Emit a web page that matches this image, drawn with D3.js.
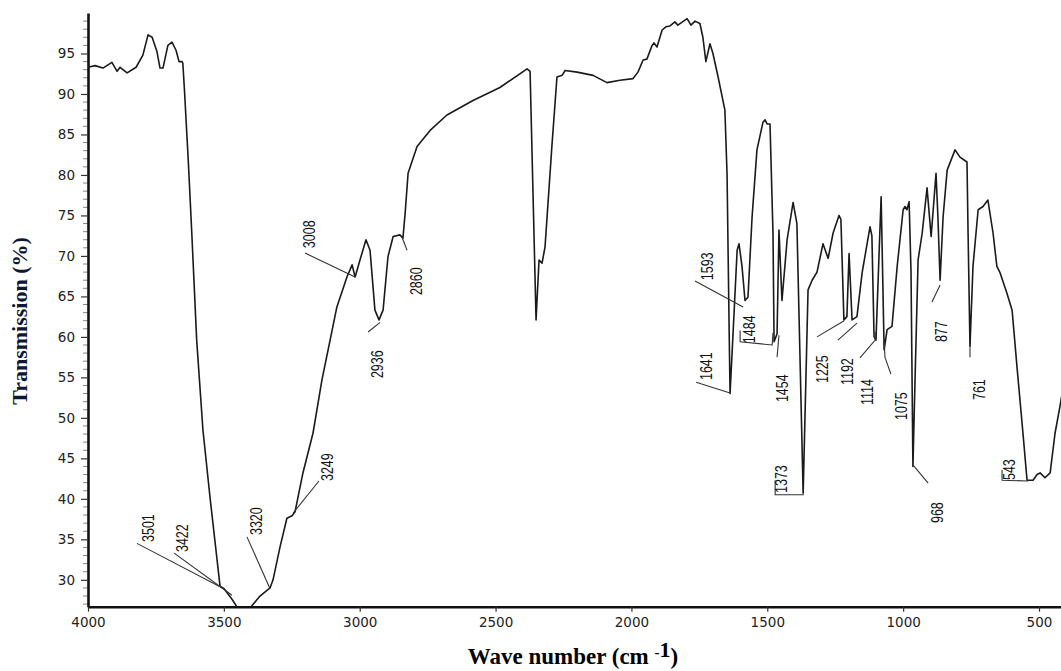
<!DOCTYPE html>
<html>
<head>
<meta charset="utf-8">
<style>
  body { margin: 0; background: #fff; }
  svg { display: block; }
  .axis text { font-family: "DejaVu Sans", sans-serif; font-size: 13.5px; fill: #222; }
  .axis .domain { stroke: #111; stroke-width: 2.6; }
  .axis .tick line { stroke: #333; stroke-width: 1.2; }
  .minor line { stroke: #888; stroke-width: 1; }
  .peak text { font-family: "Liberation Sans", Arial, sans-serif; font-size: 12.5px; fill: #111; }
  .peak path { fill: none; stroke: #333; stroke-width: 1.1; }
  .title { font-family: "Liberation Serif", "Times New Roman", serif; font-weight: bold; }
</style>
<script src="https://cdn.jsdelivr.net/npm/d3@7"></script>
</head>
<body>
<svg id="chart" width="1061" height="671"></svg>
<script>
// spectrum: wave number (cm-1) and transmission (%)
const waveNumber = [4000,3974,3945,3912,3893,3882,3856,3823,3798,3779,3764,3746,3735,3724,3706,3691,3676,3665,3654,3651,3645,3631,3618,3600,3577,3551,3514,3499,3470,3449,3425,3404,3367,3330,3319,3293,3268,3249,3238,3209,3172,3139,3109,3084,3047,3028,3017,2999,2977,2962,2944,2929,2914,2896,2877,2852,2841,2833,2822,2789,2741,2679,2583,2484,2384,2373,2351,2340,2329,2318,2292,2274,2255,2244,2200,2141,2090,2042,1994,1976,1957,1943,1924,1917,1906,1887,1873,1858,1840,1829,1795,1781,1766,1748,1737,1726,1711,1700,1681,1656,1648,1640,1637,1626,1611,1604,1593,1582,1571,1556,1538,1516,1508,1501,1490,1479,1475,1464,1457,1446,1427,1405,1391,1368,1350,1335,1317,1295,1276,1258,1236,1229,1218,1207,1199,1188,1170,1151,1122,1115,1107,1100,1081,1070,1059,1041,1022,1000,993,986,978,971,964,956,945,930,912,897,879,872,864,853,838,809,791,765,761,754,743,724,706,688,669,655,643,618,599,581,559,544,522,507,496,478,459,441,423,410];
const transmission = [93.3,93.5,93.2,93.9,92.8,93.3,92.6,93.3,94.8,97.3,97.0,95.2,93.2,93.2,96.0,96.4,95.4,94.0,94.0,93.8,90.5,81.8,72.8,59.6,48.5,40.2,29.2,28.9,27.6,26.5,25.5,26.5,28.0,29.0,30.0,34.1,37.6,37.9,38.4,43.2,48.1,54.7,59.6,63.7,67.4,68.9,67.4,69.5,72.0,70.7,63.3,62.1,63.3,69.9,72.4,72.6,72.2,75.2,80.2,83.5,85.5,87.4,89.2,90.8,93.1,92.8,62.1,69.5,69.1,71.1,83.9,92.1,92.3,92.9,92.7,92.3,91.4,91.7,91.9,92.7,94.2,94.3,96.0,96.3,95.8,97.9,98.3,98.4,98.9,98.5,99.3,98.5,99.0,98.7,97.0,94.0,96.2,95.0,92.1,88.0,80.0,60.0,53.0,60.4,70.7,71.5,68.7,64.5,64.9,74.8,83.1,86.5,86.8,86.3,86.3,72.8,59.4,60.4,73.2,64.5,72.0,76.6,74.0,40.7,65.8,67.0,68.0,71.5,69.7,72.8,75.0,74.5,62.1,62.5,70.3,62.1,62.5,67.9,73.6,72.5,60.0,59.6,77.3,58.4,60.9,61.3,68.7,75.7,76.1,75.7,76.7,68.0,44.0,55.0,69.5,72.8,78.4,72.4,80.2,74.8,67.0,74.8,80.6,83.1,82.2,81.6,72.8,58.8,68.7,75.7,76.1,76.9,72.8,68.7,67.9,65.4,63.3,56.3,48.1,42.3,42.3,43.0,43.2,42.6,43.2,48.1,51.4,54.0];

// peak labels, where each label sits and its leader line (data units)
const peakLabels = ["3501","3422","3320","3249","3008","2936","2860","1641","1593","1484","1454","1373","1225","1192","1114","1075","968","877","761","543"];
const peakLabelAt = [[3757,34.67],[3632,33.43],[3360,35.53],[3098,42.2],[3164,70.96],[2914,54.91],[2771,65.16],[1703,54.67],[1700,67.0],[1545,59.23],[1424,51.95],[1427,40.72],[1276,54.3],[1184,54.05],[1111,51.58],[986,49.73],[853,37.01],[838,59.36],[699,52.2],[588,42.32]];
const peakLeaders = [
  [[3820,34.5],[3500,28.9]],
  [[3683,33.3],[3470,28.1]],
  [[3415,35.3],[3330,28.9]],
  [[3150,42.2],[3245,38.25]],
  [[3201,70.35],[3017,67.4]],
  [[2969,60.6],[2925,61.8]],
  [[2844,72.3],[2826,70.7]],
  [[1762,54.4],[1637,53.06]],
  [[1766,66.9],[1589,63.7]],
  [[1600,60.8],[1600,59.4],[1482,59.0],[1479,60.5]],
  [[1464,57.5],[1457,60.2]],
  [[1471,42.3],[1471,40.5],[1365,40.5]],
  [[1317,60.0],[1217,62.0]],
  [[1240,59.6],[1170,61.7]],
  [[1159,57.4],[1103,59.6],[1103,60.6]],
  [[1045,55.4],[1067,57.5],[1070,59.6]],
  [[964,44.2],[908,41.95]],
  [[894,64.3],[864,66.4]],
  [[754,57.5],[754,58.7]],
  [[636,43.55],[636,42.3],[540,42.2]]
];

const xTicks = [4000,3500,3000,2500,2000,1500,1000,500];
const yTicks = [30,35,40,45,50,55,60,65,70,75,80,85,90,95];

const plotLeft = 88, plotTop = 13, plotBottom = 606.7;
const svg = d3.select("#chart");

const x = d3.scaleLinear().domain([4000, 400]).range([plotLeft, plotLeft + 3600 * 0.271714]);
const y = d3.scaleLinear().domain([26.68, 100]).range([plotBottom, plotTop]);

svg.append("clipPath").attr("id", "plot")
  .append("rect").attr("x", plotLeft).attr("y", plotTop)
  .attr("width", 1061 - plotLeft).attr("height", plotBottom - plotTop);

// minor ticks on y axis
var minor = d3.range(27, 101).filter(function(d){ return d % 5 != 0; });
svg.append("g").attr("class", "minor")
  .selectAll("line").data(minor).enter().append("line")
  .attr("x1", plotLeft - 5).attr("x2", plotLeft)
  .attr("y1", function(d){ return y(d); }).attr("y2", function(d){ return y(d); });

svg.append("g").attr("class", "axis")
  .attr("transform", "translate(0," + plotBottom + ")")
  .call(d3.axisBottom(x).tickValues(xTicks).tickSize(5).tickSizeOuter(0).tickPadding(6).tickFormat(d3.format("d")));

svg.append("g").attr("class", "axis")
  .attr("transform", "translate(" + plotLeft + ",0)")
  .call(d3.axisLeft(y).tickValues(yTicks).tickSize(7).tickSizeOuter(0).tickPadding(6).tickFormat(d3.format("d")));

// the spectrum
var points = waveNumber.map(function(v, i){ return [v, transmission[i]]; });
var line = d3.line().x(function(d){ return x(d[0]); }).y(function(d){ return y(d[1]); });

svg.append("path")
  .datum(points)
  .attr("clip-path", "url(#plot)")
  .attr("fill", "none")
  .attr("stroke", "#1a1a1a")
  .attr("stroke-width", 1.6)
  .attr("stroke-linejoin", "round")
  .attr("d", line);

// peak annotations
var peaks = svg.append("g").attr("class", "peak");
peaks.selectAll("path").data(peakLeaders).enter().append("path")
  .attr("d", line);
peaks.selectAll("text").data(peakLabels).enter().append("text")
  .attr("transform", function(d, i){
    return "translate(" + x(peakLabelAt[i][0]) + "," + y(peakLabelAt[i][1]) + ") rotate(-90) scale(1,1.3)";
  })
  .text(function(d){ return d; });

// axis titles
svg.append("text").attr("class", "title")
  .attr("transform", "translate(27,321) rotate(-90)")
  .attr("text-anchor", "middle")
  .attr("font-size", 22)
  .attr("fill", "#0d1632")
  .text("Transmission (%)");

var xt = svg.append("text").attr("class", "title")
  .attr("x", 573).attr("y", 664)
  .attr("text-anchor", "middle")
  .attr("font-size", 23)
  .attr("fill", "#000");
xt.append("tspan").text("Wave number (cm ");
xt.append("tspan").attr("dy", -7).attr("font-size", 15).text("-");
xt.append("tspan").attr("font-size", 22).text("1");
xt.append("tspan").attr("dy", 7).text(")");
</script>
</body>
</html>
